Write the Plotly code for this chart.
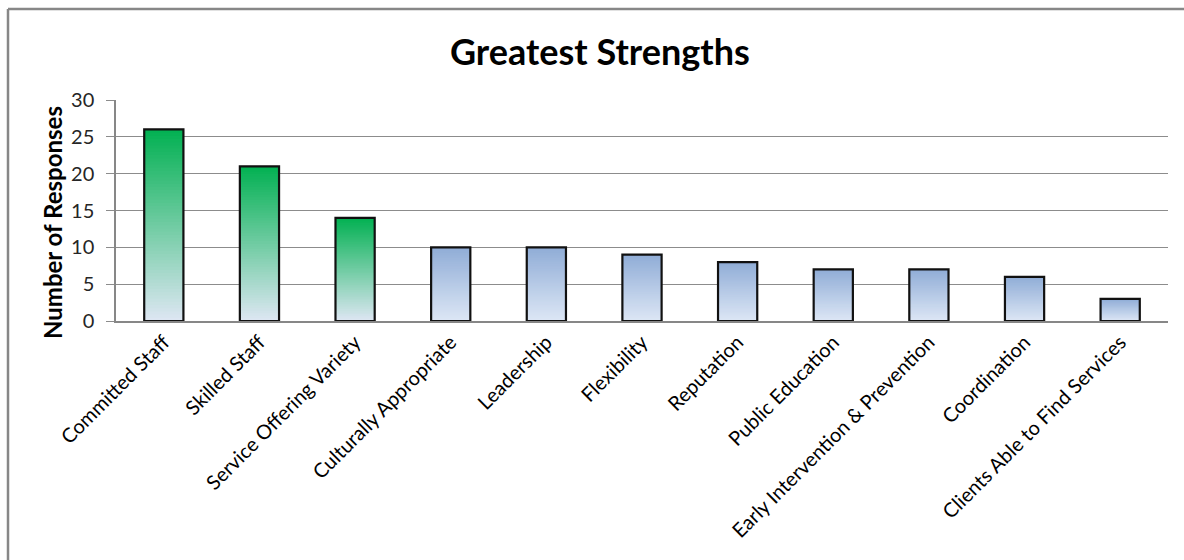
import plotly.graph_objects as go

# Survey results: greatest strengths
categories = [
    "Committed Staff", "Skilled Staff", "Service Offering Variety",
    "Culturally Appropriate", "Leadership", "Flexibility", "Reputation",
    "Public Education", "Early Intervention & Prevention", "Coordination",
    "Clients Able to Find Services",
]
responses = [26, 21, 14, 10, 10, 9, 8, 7, 7, 6, 3]
highlighted = [True, True, True, False, False, False, False, False, False, False, False]
y_ticks = [0, 5, 10, 15, 20, 25, 30]

# gradient end colours (top -> bottom)
GREEN_TOP, GREEN_BOTTOM = (0, 176, 80), (220, 230, 242)
BLUE_TOP, BLUE_BOTTOM = (143, 172, 214), (220, 230, 245)
STEPS = 60

W, H = 1184, 560
L, R, T, B = 116, 16, 100, 239
pw, ph = W - L - R, H - T - B


def mix(c_top, c_bot, frac):
    """frac = 0 at bottom of bar, 1 at top"""
    return "rgb({},{},{})".format(*[round(b + (t - b) * frac) for t, b in zip(c_top, c_bot)])


fig = go.Figure()

# Each bar is built from overlapping slices running from a rising base up to the
# bar's value, so the colour shifts smoothly from bottom to top without seams.
for k in range(STEPS):
    frac = k / STEPS
    colors = [
        mix(GREEN_TOP, GREEN_BOTTOM, frac) if hl else mix(BLUE_TOP, BLUE_BOTTOM, frac)
        for hl in highlighted
    ]
    fig.add_trace(go.Bar(
        x=categories,
        y=[v * (1 - frac) for v in responses],
        base=[v * frac for v in responses],
        marker=dict(color=colors, line=dict(width=0)),
        width=0.41,
        hoverinfo="skip",
        showlegend=False,
    ))

# outline of each bar
fig.add_trace(go.Bar(
    x=categories,
    y=responses,
    marker=dict(color="rgba(0,0,0,0)", line=dict(color="#111111", width=2.2)),
    width=0.41,
    showlegend=False,
))


def px_x(x):
    return (x - L) / pw


def px_y(y):
    return 1 - (y - T) / ph


# chart frame (top and left edges visible)
frame = dict(type="line", xref="paper", yref="paper", line=dict(color="#878787", width=2.5))
fig.add_shape(**frame, x0=px_x(8), x1=px_x(W + 10), y0=px_y(9), y1=px_y(9))
fig.add_shape(**frame, x0=px_x(8), x1=px_x(8), y0=px_y(9), y1=px_y(H + 10))

fig.add_annotation(
    text="<b>Greatest Strengths</b>", xref="paper", yref="paper",
    x=px_x(600), y=px_y(51), xanchor="center", yanchor="middle", showarrow=False,
    font=dict(family="Lato", size=36, color="#000000"),
)
fig.add_annotation(
    text="<b>Number of Responses</b>", xref="paper", yref="paper",
    x=px_x(52), y=px_y(223), xanchor="center", yanchor="middle",
    showarrow=False, textangle=-90,
    font=dict(family="Lato", size=24, color="#000000"),
)

fig.update_layout(
    width=W, height=H,
    margin=dict(l=L, r=R, t=T, b=B),
    paper_bgcolor="white", plot_bgcolor="white",
    barmode="overlay",
    font=dict(family="Lato", color="#000000"),
)
fig.update_xaxes(
    type="category",
    tickangle=-45,
    tickfont=dict(size=20, family="Lato", color="#000000"),
    showgrid=False,
    showline=True, linecolor="#878787", linewidth=1.5,
    ticks="",
)
fig.update_yaxes(
    range=[0, 30],
    tickvals=y_ticks,
    tickfont=dict(size=20, family="Lato", color="#262626"),
    ticklabelstandoff=8,
    showgrid=True, gridcolor="#8c8c8c", gridwidth=1,
    showline=True, linecolor="#878787", linewidth=1.5,
    ticks="outside", ticklen=8, tickcolor="#8c8c8c",
    zeroline=False,
)

fig.write_html("out.html")
